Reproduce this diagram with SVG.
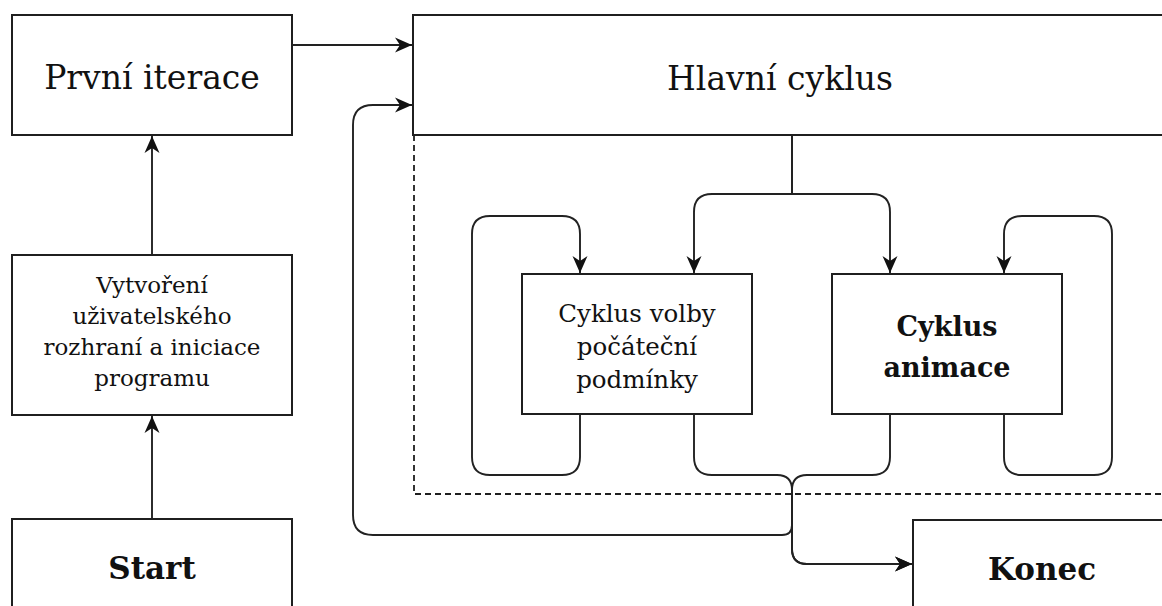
<svg xmlns="http://www.w3.org/2000/svg" width="1162" height="606" viewBox="0 0 1162 606">
<style>
.box{fill:#fff;stroke:#1f1f1f;stroke-width:2}
.dash{fill:none;stroke:#1f1f1f;stroke-width:1.8;stroke-dasharray:6 4}
.t{font-family:"DejaVu Serif","Liberation Serif",serif;fill:#111;text-anchor:middle}
.b{font-weight:bold}
.c{fill:none;stroke:#222;stroke-width:1.9}
</style>
<defs>
<marker id="arr" markerUnits="userSpaceOnUse" markerWidth="22" markerHeight="18" viewBox="-19 -9 22 18" refX="0" refY="0" orient="auto">
<path d="M0,0 L-17,-7.5 L-12,0 L-17,7.5 Z" fill="#111"/>
</marker>
</defs>
<rect width="1162" height="606" fill="#fff"/>
<g id="node-prvni">
<rect class="box" x="12" y="15" width="280" height="120"/>
<text class="t" x="152" y="89" font-size="33">První iterace</text>
</g>
<g id="node-hlavni">
<rect class="box" x="413" y="15" width="770" height="120"/>
<path class="dash" d="M414,135 L414,494 L1170,494"/>
<text class="t" x="780" y="90" font-size="33">Hlavní cyklus</text>
</g>
<g id="node-vytvoreni">
<rect class="box" x="12" y="255" width="280" height="160"/>
<text class="t" font-size="23"><tspan x="152" y="293">Vytvoření</tspan><tspan x="152" y="324">uživatelského</tspan><tspan x="152" y="355">rozhraní a iniciace</tspan><tspan x="152" y="386">programu</tspan></text>
</g>
<g id="node-start">
<rect class="box" x="12" y="519" width="280" height="110"/>
<text class="t b" x="152" y="579" font-size="31">Start</text>
</g>
<g id="node-volby">
<rect class="box" x="522" y="274" width="230" height="140"/>
<text class="t" font-size="24.5"><tspan x="637" y="322">Cyklus volby</tspan><tspan x="637" y="355">počáteční</tspan><tspan x="637" y="388">podmínky</tspan></text>
</g>
<g id="node-animace">
<rect class="box" x="832" y="274" width="230" height="140"/>
<text class="t b" font-size="27"><tspan x="947" y="336">Cyklus</tspan><tspan x="947" y="377">animace</tspan></text>
</g>
<g id="node-konec">
<rect class="box" x="913" y="520" width="270" height="110"/>
<text class="t b" x="1042" y="580" font-size="31">Konec</text>
</g>
<g id="connectors">
<path class="c" marker-end="url(#arr)" d="M152,519 L152,416"/>
<path class="c" marker-end="url(#arr)" d="M152,255 L152,136"/>
<path class="c" marker-end="url(#arr)" d="M292,45 L412,45"/>
<path class="c" marker-end="url(#arr)" d="M792,135 L792,194 L712,194 Q694,194 694,212 L694,273"/>
<path class="c" marker-end="url(#arr)" d="M792,135 L792,194 L872,194 Q890,194 890,212 L890,273"/>
<path class="c" marker-end="url(#arr)" d="M580,414 L580,457 Q580,475 562,475 L490,475 Q472,475 472,457 L472,234 Q472,216 490,216 L562,216 Q580,216 580,234 L580,273"/>
<path class="c" marker-end="url(#arr)" d="M1004,414 L1004,457 Q1004,475 1022,475 L1094,475 Q1112,475 1112,457 L1112,234 Q1112,216 1094,216 L1022,216 Q1004,216 1004,234 L1004,273"/>
<path class="c" marker-end="url(#arr)" d="M694,414 L694,457 Q694,475 712,475 L777,475 Q792,475 792,490 L792,549 Q792,564 807,564 L912,564"/>
<path class="c" marker-end="url(#arr)" d="M890,414 L890,457 Q890,475 872,475 L807,475 Q792,475 792,490 L792,549 Q792,564 807,564 L912,564"/>
<path class="c" marker-end="url(#arr)" d="M792,490 L792,525 Q792,535 782,535 L373,535 Q353,535 353,515 L353,125 Q353,105 373,105 L412,105"/>
</g>
</svg>
